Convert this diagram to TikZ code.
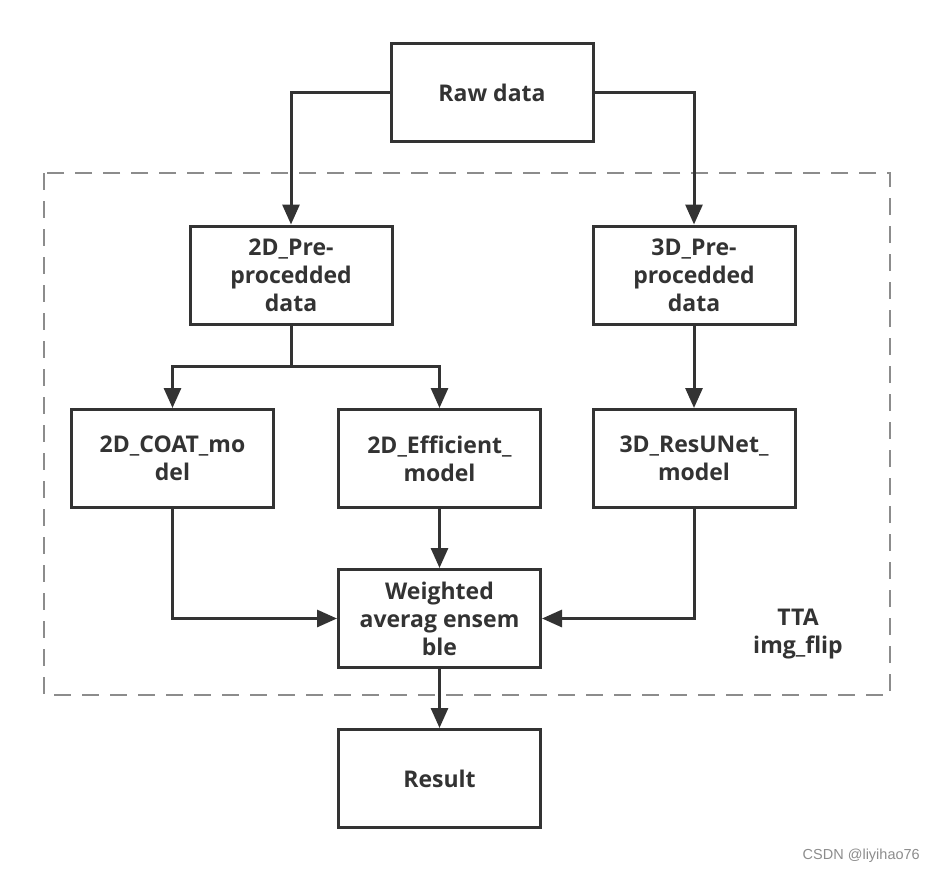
\documentclass[tikz,border=0pt]{standalone}
\usepackage{fontspec}
\setmainfont{Open Sans}
\newfontfamily\markfont{Liberation Sans}
\usetikzlibrary{arrows.meta,positioning}
\definecolor{ink}{HTML}{333333}
\definecolor{frame}{HTML}{8C8C8C}
\tikzset{
  stepbox/.style={draw=ink, line width=3pt, fill=white, rectangle,
    minimum width=202pt, minimum height=98pt, inner sep=2pt,
    align=center, text=ink, font=\fontsize{23}{28}\selectfont\bfseries},
  flow/.style={draw=ink, line width=3pt, -{Triangle[length=20pt,width=17pt]}},
  groupframe/.style={draw=frame, line width=2pt, dash pattern=on 17pt off 11pt},
  tag/.style={text=ink, align=center, font=\fontsize{23}{28}\selectfont\bfseries},
}
\begin{document}
\begin{tikzpicture}[x=1pt,y=-1pt]
  \useasboundingbox (0,0) rectangle (934,872);

  % test-time augmentation group
  \draw[groupframe] (44,173) rectangle (890,695);
  \node[tag] (tta) at (798,634) {TTA\\img\_flip};

  % processing stages
  \node[stepbox] (raw)    at (492,93)    {Raw data};
  \node[stepbox] (pre2)   at (291,275)   {2D\_Pre-\\procedded\\data};
  \node[stepbox] (pre3)   at (694,275)   {3D\_Pre-\\procedded\\data};
  \node[stepbox] (coat)   at (172.5,458.5) {2D\_COAT\_mo\\del};
  \node[stepbox] (eff)    at (439.5,458.5) {2D\_Efficient\_\\model};
  \node[stepbox] (res)    at (694,458.5)   {3D\_ResUNet\_\\model};
  \node[stepbox] (wavg)   at (439.5,618.5) {Weighted\\averag ensem\\ble};
  \node[stepbox] (result) at (439.5,778.5) {Result};

  % connectors
  \coordinate (split) at (291,366);
  \draw[flow] (raw.west) -| (pre2.north);
  \draw[flow] (raw.east) -| (pre3.north);
  \draw[draw=ink, line width=3pt] (pre2.south) -- (split);
  \draw[flow] (split) -| (coat.north);
  \draw[flow] (split) -| (eff.north);
  \draw[flow] (pre3.south) -- (res.north);
  \draw[flow] (coat.south) |- (wavg.west);
  \draw[flow] (eff.south) -- (wavg.north);
  \draw[flow] (res.south) |- (wavg.east);
  \draw[flow] (wavg.south) -- (result.north);

  % author mark
  \node[anchor=east, text=frame, font=\markfont\fontsize{14.5}{16}\selectfont, inner sep=0pt] (mark) at (920,856) {CSDN @liyihao76};
\end{tikzpicture}
\end{document}
